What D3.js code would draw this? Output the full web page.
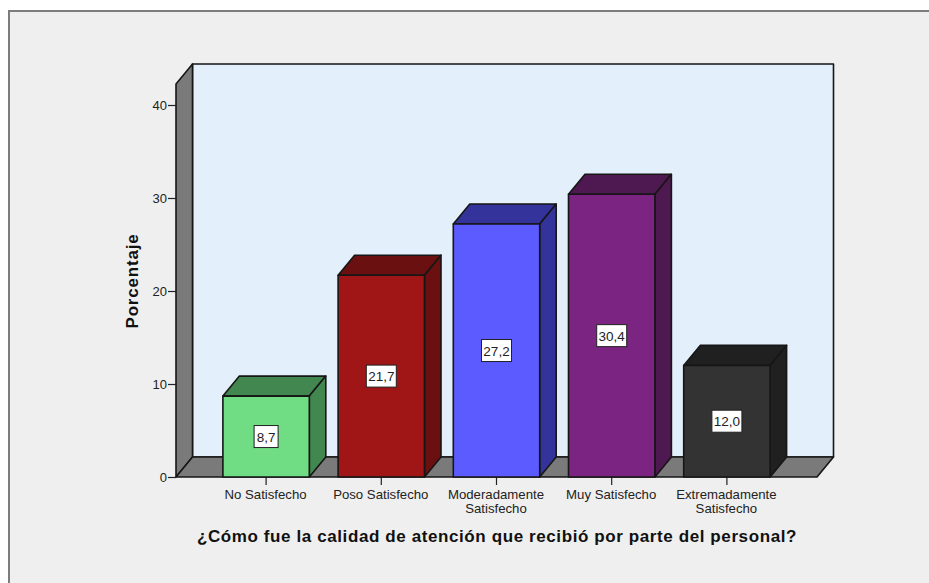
<!DOCTYPE html>
<html><head><meta charset="utf-8">
<script src="https://cdnjs.cloudflare.com/ajax/libs/d3/7.8.5/d3.min.js"></script>
<style>html,body{margin:0;padding:0;background:#fff}svg{display:block}text{font-family:"Liberation Sans",Arial,sans-serif}</style>
</head><body><svg id="c" width="929" height="583"></svg>
<script>
const categories=[["No Satisfecho"],["Poso Satisfecho"],["Moderadamente","Satisfecho"],["Muy Satisfecho"],["Extremadamente","Satisfecho"]];
const values=[8.7,21.7,27.2,30.4,12.0];
const valueLabels=["8,7","21,7","27,2","30,4","12,0"];
const frontColors=["#70dc84","#a01515","#5b5bff","#7b2481","#333333"];
const topColors=["#41874f","#6a1010","#33339b","#4e1850","#202020"];
const yTicks=[0,10,20,30,40];
const xTitle="¿Cómo fue la calidad de atención que recibió por parte del personal?";
const yTitle="Porcentaje";

const svg=d3.select("#c");
const dx=16.5,dy=20,stroke="#161616";
const y=d3.scaleLinear().domain([0,40]).range([477,105]);
const x=d3.scaleBand().domain(d3.range(5)).range([208.5,784.5]).paddingInner(.25).paddingOuter(.125);
const L=176,R=817,T=84,B=y(0);

svg.append("rect").attr("x",9).attr("y",11).attr("width",925).attr("height",577)
  .attr("fill","#efefef").attr("stroke","#7d7d7d").attr("stroke-width",2);

const poly=(pts,fill,sw=1.6)=>svg.append("polygon").attr("points",pts.map(p=>p.join(",")).join(" "))
  .attr("fill",fill).attr("stroke",stroke).attr("stroke-width",sw).attr("stroke-linejoin","round");

poly([[L+dx,T-dy],[R+dx,T-dy],[R+dx,B-dy],[L+dx,B-dy]],"#e3effb");
poly([[L,T],[L+dx,T-dy],[L+dx,B-dy],[L,B]],"#7a7a7a");
poly([[L,B],[L+dx,B-dy],[R+dx,B-dy],[R,B]],"#7a7a7a");

const yAxis=svg.append("g").attr("transform",`translate(${L},0)`)
  .call(d3.axisLeft(y).tickValues(yTicks).tickSize(8).tickPadding(1));
yAxis.select(".domain").remove();
yAxis.selectAll("text").attr("font-size",13).attr("fill","#222").style("font-family",'"Liberation Sans",Arial,sans-serif');
yAxis.selectAll("line").attr("stroke","#222").attr("stroke-width",1.2);

const xAxis=svg.append("g").attr("transform",`translate(0,${B})`)
  .call(d3.axisBottom(x).tickSize(8).tickFormat(""));
xAxis.select(".domain").remove();
xAxis.selectAll("line").attr("stroke","#222").attr("stroke-width",1.2);

values.forEach((v,i)=>{
  const a=x(i),b=a+x.bandwidth(),t=y(v);
  poly([[a,t],[a+dx,t-dy],[b+dx,t-dy],[b,t]],topColors[i]);
  poly([[b,t],[b+dx,t-dy],[b+dx,B-dy],[b,B]],topColors[i]);
  poly([[a,t],[b,t],[b,B],[a,B]],frontColors[i]);
  const cx=(a+b)/2,cy=(t+B)/2,w=valueLabels[i].length>3?30:24;
  svg.append("rect").attr("x",cx-w/2).attr("y",cy-11).attr("width",w).attr("height",22)
    .attr("fill","#fff").attr("stroke","#222").attr("stroke-width",1);
  svg.append("text").attr("x",cx).attr("y",cy+5).attr("text-anchor","middle").attr("font-size",13.5).attr("fill","#222").text(valueLabels[i]);
  categories[i].forEach((s,j)=>svg.append("text").attr("x",cx-0.5).attr("y",499+j*13.5)
    .attr("text-anchor","middle").attr("font-size",13.2).attr("fill","#222").text(s));
});

svg.append("text").attr("x",497).attr("y",542).attr("text-anchor","middle")
  .attr("font-size",17).attr("font-weight","bold").attr("fill","#111").attr("letter-spacing",".6").text(xTitle);
svg.append("text").attr("transform","translate(138,281) rotate(-90)").attr("text-anchor","middle")
  .attr("font-size",17).attr("font-weight","bold").attr("fill","#111").attr("letter-spacing",".8").text(yTitle);
</script></body></html>
